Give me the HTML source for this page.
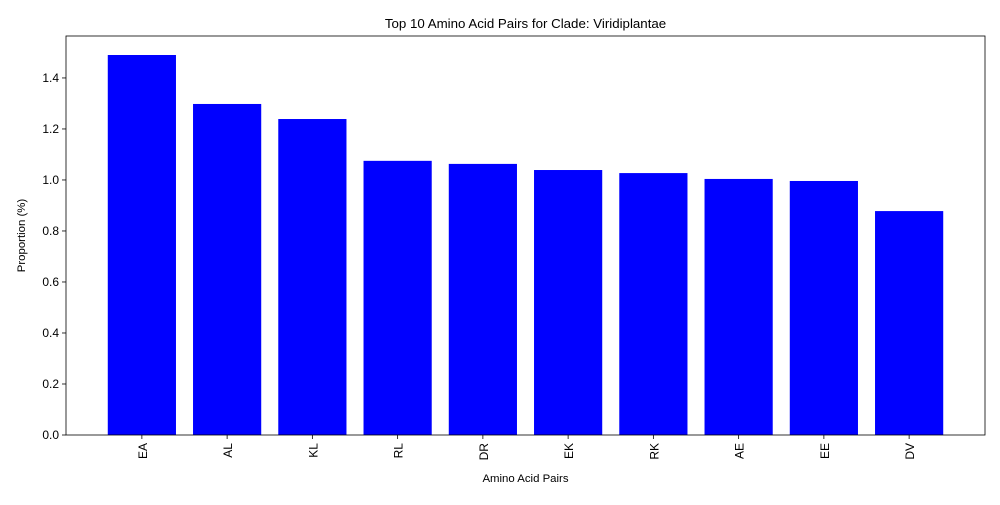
<!DOCTYPE html>
<html><head><meta charset="utf-8"><style>
body{margin:0;background:#fff;}
svg text{font-family:"Liberation Sans","DejaVu Sans",sans-serif;fill:#000;}
</style></head><body>
<svg id="chart" width="1000" height="500" xmlns="http://www.w3.org/2000/svg"></svg>
<script>
const categories=["EA","AL","KL","RL","DR","EK","RK","AE","EE","DV"];
const values=[1.490,1.298,1.239,1.075,1.063,1.039,1.027,1.004,0.996,0.878];
const yTicks=[0.0,0.2,0.4,0.6,0.8,1.0,1.2,1.4];
const yTickLabels=["0.0","0.2","0.4","0.6","0.8","1.0","1.2","1.4"];

const NS="http://www.w3.org/2000/svg";
const svg=document.getElementById('chart');
const L=66,R=985,T=36,B=435;
const xmin=-0.89,xmax=categories.length-1+0.89;
const ymax=Math.max(...values)*1.05;
const x=i=>L+(i-xmin)/(xmax-xmin)*(R-L);
const y=v=>B-v/ymax*(B-T);
const bw=0.8*(R-L)/(xmax-xmin);
function mk(tag,attrs,text){const e=document.createElementNS(NS,tag);for(const k in attrs)e.setAttribute(k,attrs[k]);if(text!==undefined)e.textContent=text;svg.appendChild(e);return e;}

categories.forEach((c,i)=>{
  const b=mk('rect',{x:x(i)-bw/2,y:y(values[i]),width:bw,height:B-y(values[i]),fill:'#0000ff'});
  
  
  const t=mk('line',{x1:x(i),x2:x(i),y1:B,y2:B+4,stroke:'#000','stroke-width':0.8});
  
  
  const lx=x(i)+5,ly=B+8;
  const lb=mk('text',{x:lx,y:ly,'font-size':12,'text-anchor':'end',transform:`rotate(-90 ${lx} ${ly})`},c);
  
  
});
yTicks.forEach((v,i)=>{
  const t=mk('line',{x1:L-4,x2:L,y1:y(v),y2:y(v),stroke:'#000','stroke-width':0.8});
  
  
  const lb=mk('text',{x:L-7,y:y(v)+4,'font-size':12,'text-anchor':'end'},yTickLabels[i]);
  
  
});
const f=mk('rect',{x:L,y:T,width:R-L,height:B-T,fill:'none',stroke:'#000','stroke-width':0.8});


const tt=mk('text',{x:(L+R)/2,y:T-8,'font-size':13.3,'text-anchor':'middle'},'Top 10 Amino Acid Pairs for Clade: Viridiplantae');


const xt=mk('text',{x:(L+R)/2,y:482,'font-size':11.4,'text-anchor':'middle'},'Amino Acid Pairs');


const yt=mk('text',{x:25,y:(T+B)/2,'font-size':11.4,'text-anchor':'middle',transform:`rotate(-90 25 ${(T+B)/2})`},'Proportion (%)');


</script>
</body></html>
